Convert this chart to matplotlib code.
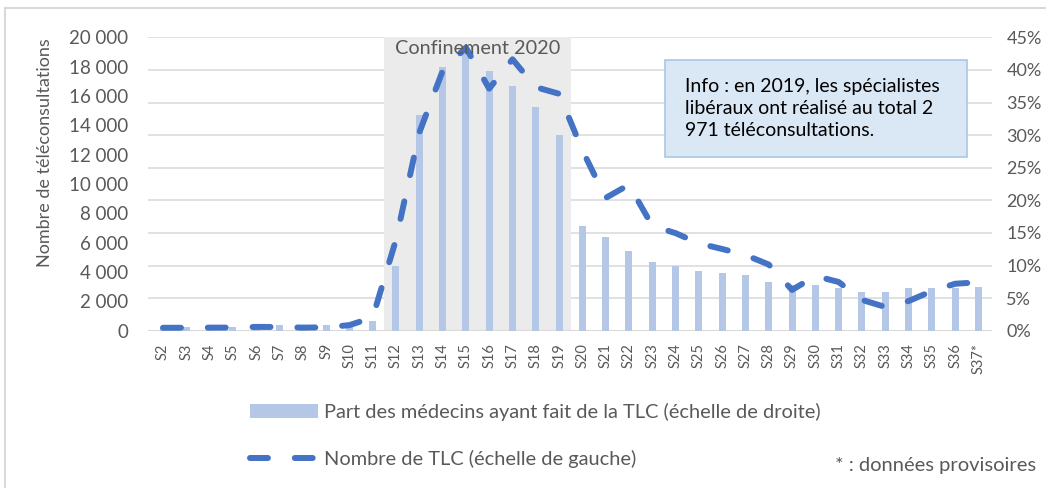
import matplotlib
matplotlib.use('Agg')
import matplotlib.pyplot as plt
from matplotlib.patches import Rectangle
from matplotlib.ticker import FuncFormatter

plt.rcParams['font.family'] = ['Lato', 'DejaVu Sans']

semaines = ['S2', 'S3', 'S4', 'S5', 'S6', 'S7', 'S8', 'S9', 'S10', 'S11',
            'S12', 'S13', 'S14', 'S15', 'S16', 'S17', 'S18', 'S19', 'S20', 'S21',
            'S22', 'S23', 'S24', 'S25', 'S26', 'S27', 'S28', 'S29', 'S30', 'S31',
            'S32', 'S33', 'S34', 'S35', 'S36', 'S37*']

# part des medecins ayant fait de la TLC (%), echelle de droite
part_medecins = [0.6, 0.6, 0.6, 0.6, 0.8, 0.9, 0.9, 0.9, 1.2, 1.5,
                 10.0, 33.1, 40.4, 42.8, 39.8, 37.5, 34.3, 30.0, 16.1, 14.3,
                 12.3, 10.6, 9.9, 9.2, 8.8, 8.6, 7.4, 7.0, 7.0, 6.6,
                 6.0, 6.0, 6.5, 6.5, 6.5, 6.7]

# nombre de teleconsultations, echelle de gauche
nb_tlc = [200, 200, 210, 210, 260, 250, 210, 230, 380, 900,
          6200, 13500, 17700, 19300, 16500, 18500, 16600, 16150, 12300, 9050,
          9950, 7150, 6650, 5950, 5570, 5160, 4510, 2780, 3730, 3320,
          2100, 1620, 2020, 2700, 3200, 3300]

gris = '#595959'
x = list(range(len(semaines)))

fig = plt.figure(figsize=(10.46, 4.88), dpi=100)
ax = fig.add_axes([148 / 1046, 1 - 330.7 / 488, (991.7 - 148) / 1046, (330.7 - 37.3) / 488])
ax2 = ax.twinx()

# barres sur l'axe de droite
ax.axvspan(9.5, 17.5, color='#ebebeb', zorder=0.8, lw=0)
bars = ax.bar(x, part_medecins, width=0.3, color='#b4c7e7', zorder=2,
              label='Part des médecins ayant fait de la TLC (échelle de droite)')
ax.set_ylim(0, 45)
ax.set_yticks(range(0, 46, 5))
ax.yaxis.set_major_formatter(FuncFormatter(lambda v, p: '%d%%' % v))
ax.yaxis.tick_right()
ax.grid(axis='y', color='#d9d9d9', lw=1.1, zorder=0)
ax.set_axisbelow(True)

# ligne sur l'axe de gauche
line, = ax2.plot(x, nb_tlc, color='#4472c4', lw=4.3, dashes=(3, 4.5),
                 dash_capstyle='round', solid_capstyle='round',
                 label='Nombre de TLC (échelle de gauche)')
ax2.set_ylim(0, 20000)
ax2.set_yticks(range(0, 20001, 2000))
ax2.yaxis.set_major_formatter(FuncFormatter(lambda v, p: '{:,}'.format(int(v)).replace(',', ' ')))
ax2.yaxis.tick_left()

ax.set_xlim(-0.644, 35.57)
ax.set_xticks(x)
ax.set_xticklabels(semaines, rotation=90)

for a in (ax, ax2):
    for s in a.spines.values():
        s.set_visible(False)
    a.tick_params(length=0, colors=gris, labelsize=13.5, pad=14)
ax.tick_params(axis='y', labelsize=13, pad=10.5)
ax.tick_params(axis='x', labelsize=10.5, pad=9)
ax.axhline(0, color='#d9d9d9', lw=1.5, zorder=1)

ax2.text(13.5, 19250, 'Confinement 2020', ha='center', va='center',
         color=gris, fontsize=14.3)

fig.text(45 / 1046, 1 - 153 / 488, 'Nombre de téléconsultations', rotation=90,
         ha='center', va='center', color=gris, fontsize=13)

# encadre info
fig.patches.append(Rectangle((665 / 1046, 1 - 156.7 / 488), (966.7 - 665) / 1046, (156.7 - 60) / 488,
                             transform=fig.transFigure, facecolor='#dae7f5',
                             edgecolor='#a9c6e8', lw=1.2))
fig.text(685 / 1046, 1 - 108.5 / 488,
         'Info : en 2019, les spécialistes\nlibéraux ont réalisé au total 2\n971 téléconsultations.',
         ha='left', va='center', color='black', fontsize=14, linespacing=1.38)

# cadre exterieur
fig.patches.append(Rectangle((5 / 1046, -0.1), 1.2, 1 - 8 / 488 + 0.1, transform=fig.transFigure,
                             facecolor='none', edgecolor='#d9d9d9', lw=1.5))

fig.legend(handles=[bars, line], loc='upper left',
           bbox_to_anchor=(250 / 1046, 1 - 403 / 488), frameon=False,
           fontsize=14.4, labelcolor=gris, handlelength=3.4, handletextpad=0.3,
           labelspacing=1.45, borderaxespad=0, borderpad=0)

fig.text(835 / 1046, 1 - 466 / 488, '* : données provisoires', ha='left', va='center',
         color=gris, fontsize=14.5)

fig.savefig('out.png', dpi=100)
